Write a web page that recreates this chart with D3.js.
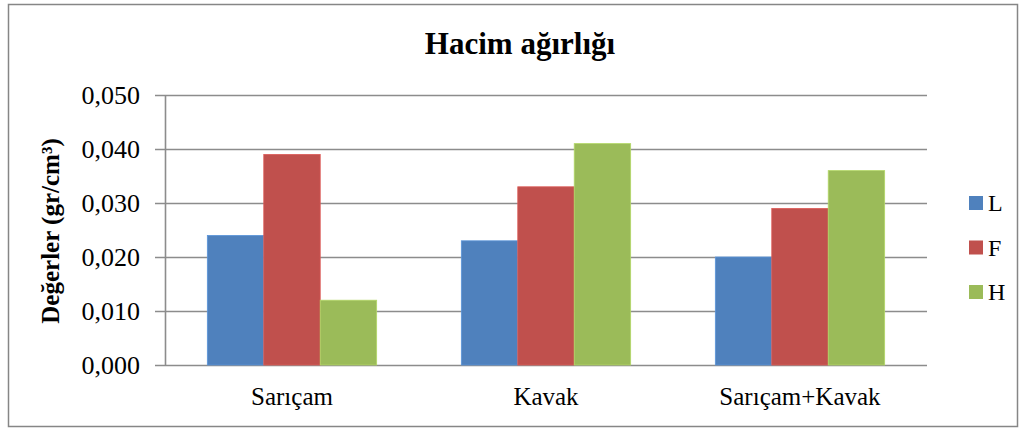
<!DOCTYPE html>
<html>
<head>
<meta charset="utf-8">
<script src="https://cdn.jsdelivr.net/npm/d3@7"></script>
<style>
  body { margin: 0; background: #fff; }
</style>
</head>
<body>
<div id="chart"></div>
<script>
let width = 1024,
    height = 429,
    margin = ({ top: 95, right: 97, bottom: 64, left: 165 });

const font = "'Liberation Serif', 'Times New Roman', Times, serif";

const categories = ["Sarıçam", "Kavak", "Sarıçam+Kavak"];
const seriesNames = ["L", "F", "H"];
const valuesL = [0.024, 0.023, 0.020];
const valuesF = [0.039, 0.033, 0.029];
const valuesH = [0.012, 0.041, 0.036];
const yTicks = [0, 0.01, 0.02, 0.03, 0.04, 0.05];

const seriesValues = { L: valuesL, F: valuesF, H: valuesH };
const data = categories.map((c, i) => ({
  cat: c,
  values: seriesNames.map(s => ({ series: s, value: seriesValues[s][i] }))
}));

const colors = d3.scaleOrdinal()
  .domain(seriesNames)
  .range(["#4F81BD", "#C0504D", "#9BBB59"]);

const svg = d3.select("#chart")
  .append("svg")
  .attr("width", width)
  .attr("height", height)
  .attr("font-family", font);

// outer frame
svg.append("rect")
  .attr("x", 8.5).attr("y", 4.5)
  .attr("width", 1009).attr("height", 422)
  .attr("fill", "#fff")
  .attr("stroke", "#868686")
  .attr("stroke-width", 1.5);

let x = d3.scaleBand()
  .domain(categories)
  .range([margin.left, width - margin.right]);

// 3 bars + 150% gap per category
let x_series = d3.scaleBand()
  .domain(seriesNames)
  .range([0, x.bandwidth() * 3 / 4.5]);

let y = d3.scaleLinear()
  .domain([0, 0.05])
  .range([height - margin.bottom, margin.top]);

const fmt = d => d3.format(".3f")(d).replace(".", ",");

// gridlines + tick marks
svg.append("g")
  .selectAll("line")
  .data(yTicks)
  .join("line")
  .attr("x1", margin.left - 10)
  .attr("x2", width - margin.right)
  .attr("y1", d => Math.round(y(d)) + 0.5)
  .attr("y2", d => Math.round(y(d)) + 0.5)
  .attr("stroke", "#8c8c8c")
  .attr("stroke-width", 1.6);

// y axis line
svg.append("line")
  .attr("x1", margin.left + 0.5).attr("x2", margin.left + 0.5)
  .attr("y1", y(0.05)).attr("y2", y(0))
  .attr("stroke", "#8c8c8c")
  .attr("stroke-width", 1.6);

// bars
for (let g of data) {
  const offset = x(g.cat) + (x.bandwidth() - x_series.range()[1]) / 2;
  svg.append("g")
    .selectAll("rect")
    .data(g.values)
    .join("rect")
    .attr("x", d => offset + x_series(d.series))
    .attr("y", d => y(d.value))
    .attr("width", x_series.bandwidth())
    .attr("height", d => y(0) - y(d.value))
    .attr("fill", d => colors(d.series))
    .attr("stroke", d => d3.color(colors(d.series)).brighter(0.4))
    .attr("stroke-width", 0.8);
}

// y tick labels
svg.append("g")
  .selectAll("text")
  .data(yTicks)
  .join("text")
  .attr("x", margin.left - 25)
  .attr("y", d => y(d))
  .attr("dy", "0.33em")
  .attr("text-anchor", "end")
  .attr("font-size", 26)
  .text(fmt);

// x labels
svg.append("g")
  .selectAll("text")
  .data(categories)
  .join("text")
  .attr("x", d => x(d) + x.bandwidth() / 2)
  .attr("y", height - margin.bottom + 40)
  .attr("text-anchor", "middle")
  .attr("font-size", 25)
  .text(d => d);

// title
svg.append("text")
  .attr("x", 520)
  .attr("y", 54)
  .attr("text-anchor", "middle")
  .attr("font-size", 31)
  .attr("font-weight", "bold")
  .text("Hacim ağırlığı");

// y title
svg.append("text")
  .attr("transform", "translate(59,231) rotate(-90)")
  .attr("text-anchor", "middle")
  .attr("font-size", 25)
  .attr("font-weight", "bold")
  .text("Değerler (gr/cm³)");

// legend
const legend = svg.append("g")
  .selectAll("g")
  .data(seriesNames)
  .join("g")
  .attr("transform", (d, i) => `translate(969,${196 + i * 44.5})`);

legend.append("rect")
  .attr("width", 14)
  .attr("height", 14)
  .attr("fill", d => colors(d));

legend.append("text")
  .attr("x", 19)
  .attr("y", 7)
  .attr("dy", "0.35em")
  .attr("font-size", 24)
  .text(d => d);
</script>
</body>
</html>
